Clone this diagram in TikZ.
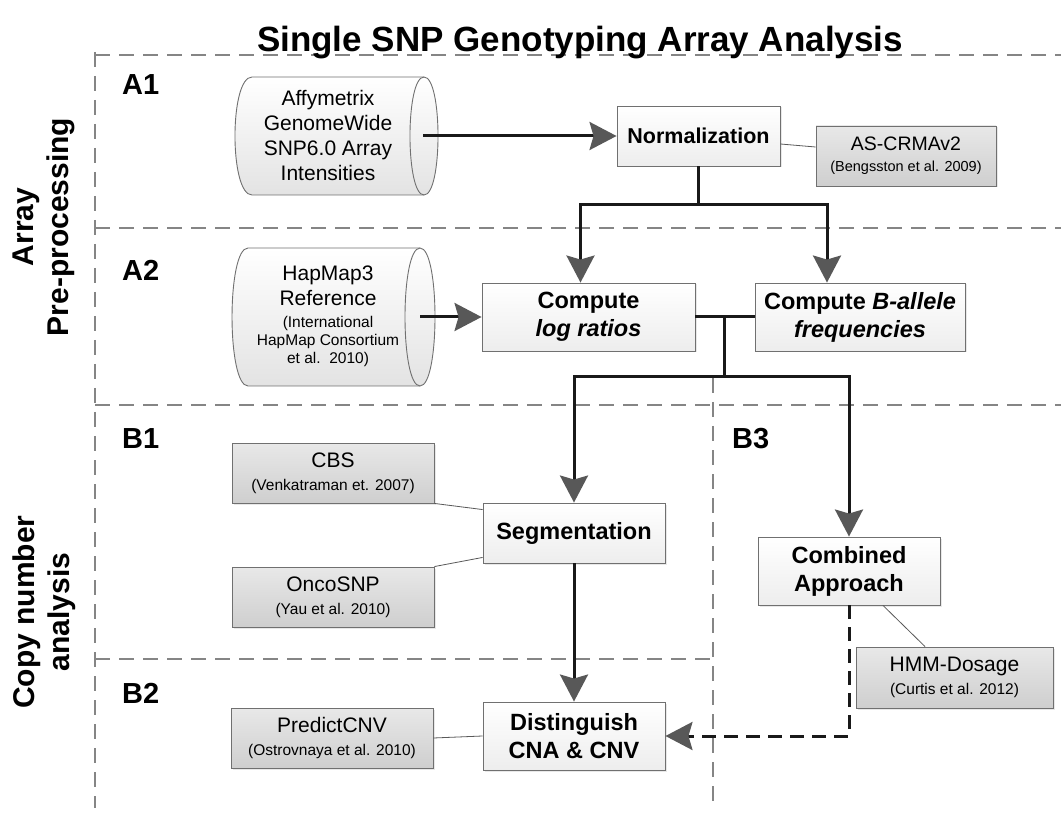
\documentclass[tikz,border=0pt]{standalone}
\usepackage{fontspec}
\setmainfont{Liberation Sans}
\usetikzlibrary{arrows.meta,calc,shadows}
\definecolor{agray}{HTML}{585858}
\definecolor{bgray}{HTML}{858585}
\definecolor{lgray}{HTML}{707070}
\newcommand\fsz[2]{\fontsize{#1}{#2}\selectfont}
\begin{document}
\begin{tikzpicture}[x=1pt,y=-1pt,
  zoneline/.style={draw=bgray, line width=1.1pt, dash pattern=on 15pt off 9pt},
  procbox/.style={draw=lgray, line width=0.9pt, top color=white, bottom color=black!7, inner sep=0pt, align=center,
     font=\fsz{23.5}{28}\bfseries, drop shadow={shadow xshift=1.5pt,shadow yshift=-1.5pt,opacity=0.18}},
  refbox/.style={draw=lgray, line width=0.9pt, top color=black!9, bottom color=black!19, inner sep=0pt, align=center,
     font=\fsz{21}{23}, drop shadow={shadow xshift=1.5pt,shadow yshift=-1.5pt,opacity=0.18}},
  conn/.style={line width=3pt, draw=black!90},
  arrowend/.style={-{Stealth[length=27pt,width=28pt,inset=4pt,color=agray]}},
  thinl/.style={draw=black!65, line width=0.8pt},
  cylfill/.style={draw=lgray, line width=0.9pt, top color=white, bottom color=black!11},
  cylline/.style={draw=lgray, line width=0.9pt},
  zlabel/.style={font=\fsz{29}{34}\bfseries, inner sep=0pt, anchor=base west},
  sidelabel/.style={font=\fsz{30}{35}\bfseries, align=center, rotate=90, inner sep=0pt}
]
\useasboundingbox (0,0) rectangle (1061,818);
\fill[white] (0,0) rectangle (1061,818);

% zone lines
\draw[zoneline] (95,52) -- (95,808);
\draw[zoneline] (95,55) -- (1061,55);
\draw[zoneline] (95,228) -- (1061,228);
\draw[zoneline] (95,405) -- (1061,405);
\draw[zoneline] (95,659) -- (713,659);
\draw[zoneline] (713,378) -- (713,808);

% title and labels
\node[font=\fsz{35}{40}\bfseries, anchor=base] (title) at (580,52) {Single SNP Genotyping Array Analysis};
\node[sidelabel] (lpre) at (44,227) {Array\\Pre-processing};
\node[sidelabel] (lcopy) at (44,612) {Copy number\\analysis};
\node[zlabel] (a1) at (122,95) {A1};
\node[zlabel] (a2) at (122,281) {A2};
\node[zlabel] (b1) at (122,448) {B1};
\node[zlabel] (b2) at (122,703) {B2};
\node[zlabel] (b3) at (732,449) {B3};

% cylinders
\path[cylfill] (252,77) -- (424,77) .. controls (442.7,77) and (442.7,195) .. (424,195) -- (252,195)
   .. controls (229.3,195) and (229.3,77) .. (252,77) -- cycle;
\draw[cylline] (424,77) .. controls (405.3,77) and (405.3,195) .. (424,195);
\node[align=center, font=\fsz{21}{25}] (affy) at (328,135) {Affymetrix\\GenomeWide\\SNP6.0 Array\\Intensities};
\coordinate (affyout) at (423,136);

\path[cylfill] (248,248) -- (420,248) .. controls (440,248) and (440,386) .. (420,386) -- (248,386)
   .. controls (226.7,386) and (226.7,248) .. (248,248) -- cycle;
\draw[cylline] (420,248) .. controls (400,248) and (400,386) .. (420,386);
\node[align=center, font=\fsz{21}{25}] (hapmap) at (328,316) {HapMap3\\Reference\\[-3pt]{\fsz{15.5}{18}(International}\\[-7pt]{\fsz{15.5}{18}HapMap Consortium}\\[-7pt]{\fsz{15.5}{18}et al.\ \ 2010)}};
\coordinate (hapout) at (420,317);

% process boxes
\node[procbox, minimum width=163pt, minimum height=60pt, font=\fsz{21.5}{26}\bfseries] (norm) at (698.5,136) {Normalization};
\node[procbox, minimum width=213pt, minimum height=68pt] (logr) at (588.5,317) {Compute\\\textit{log ratios}};
\node[procbox, minimum width=210pt, minimum height=68pt] (ball) at (860,317) {Compute \textit{B-allele}\\\textit{frequencies}};
\node[procbox, minimum width=182pt, minimum height=60pt] (seg) at (574,533) {Segmentation};
\node[procbox, minimum width=182pt, minimum height=68pt] (comb) at (849,571) {Combined\\Approach};
\node[procbox, minimum width=182pt, minimum height=68pt] (dist) at (574,736) {Distinguish\\CNA \& CNV};

% reference boxes
\node[refbox, minimum width=180pt, minimum height=60pt, font=\fsz{19.5}{21}] (ascrma) at (906,156) {AS-CRMAv2\\{\fsz{14.5}{18}(Bengsston et al. 2009)}};
\node[refbox, minimum width=202pt, minimum height=60pt] (cbs) at (333,473) {CBS\\{\fsz{15.5}{18}(Venkatraman et. 2007)}};
\node[refbox, minimum width=202pt, minimum height=60pt] (onco) at (333,597) {OncoSNP\\{\fsz{15.5}{18}(Yau et al. 2010)}};
\node[refbox, minimum width=202pt, minimum height=60pt] (pcnv) at (332,738) {PredictCNV\\{\fsz{15.5}{18}(Ostrovnaya et al. 2010)}};
\node[refbox, minimum width=197pt, minimum height=61pt] (hmm) at (954.5,677.5) {HMM-Dosage\\{\fsz{15.5}{18}(Curtis et al. 2012)}};

% connectors
\draw[conn, arrowend] (affyout) -- (norm.west);
\coordinate (j1) at (698.5,205);
\draw[conn] (norm.south) -- (j1);
\draw[conn, arrowend] (j1) -| ($(logr.north)+(-8,0)$);
\draw[conn, arrowend] (j1) -| ($(ball.north)+(-33,0)$);
\draw[conn, arrowend] (hapout) -- (logr.west);
\draw[conn] (logr.east) -- (ball.west);
\coordinate (j2) at (724,317);
\coordinate (j3) at (724,377);
\draw[conn] (j2) -- (j3);
\draw[conn, arrowend] (j3) -| (seg.north);
\draw[conn, arrowend] (j3) -| (comb.north);
\draw[conn, arrowend] (seg.south) -- (dist.north);
\draw[conn, dash pattern=on 14pt off 8pt, arrowend] (comb.south) |- (dist.east);

% thin association lines
\draw[thinl] ($(norm.east)+(0,8)$) -- ($(ascrma.west)+(0,-9)$);
\draw[thinl] (cbs.south east) -- ($(seg.north west)+(0,7)$);
\draw[thinl] (onco.north east) -- ($(seg.south west)+(0,-6)$);
\draw[thinl] (pcnv.east) -- (dist.west);
\draw[thinl] ($(comb.south)+(34,0)$) -- ($(hmm.north)+(-29.5,0)$);
\end{tikzpicture}
\end{document}
